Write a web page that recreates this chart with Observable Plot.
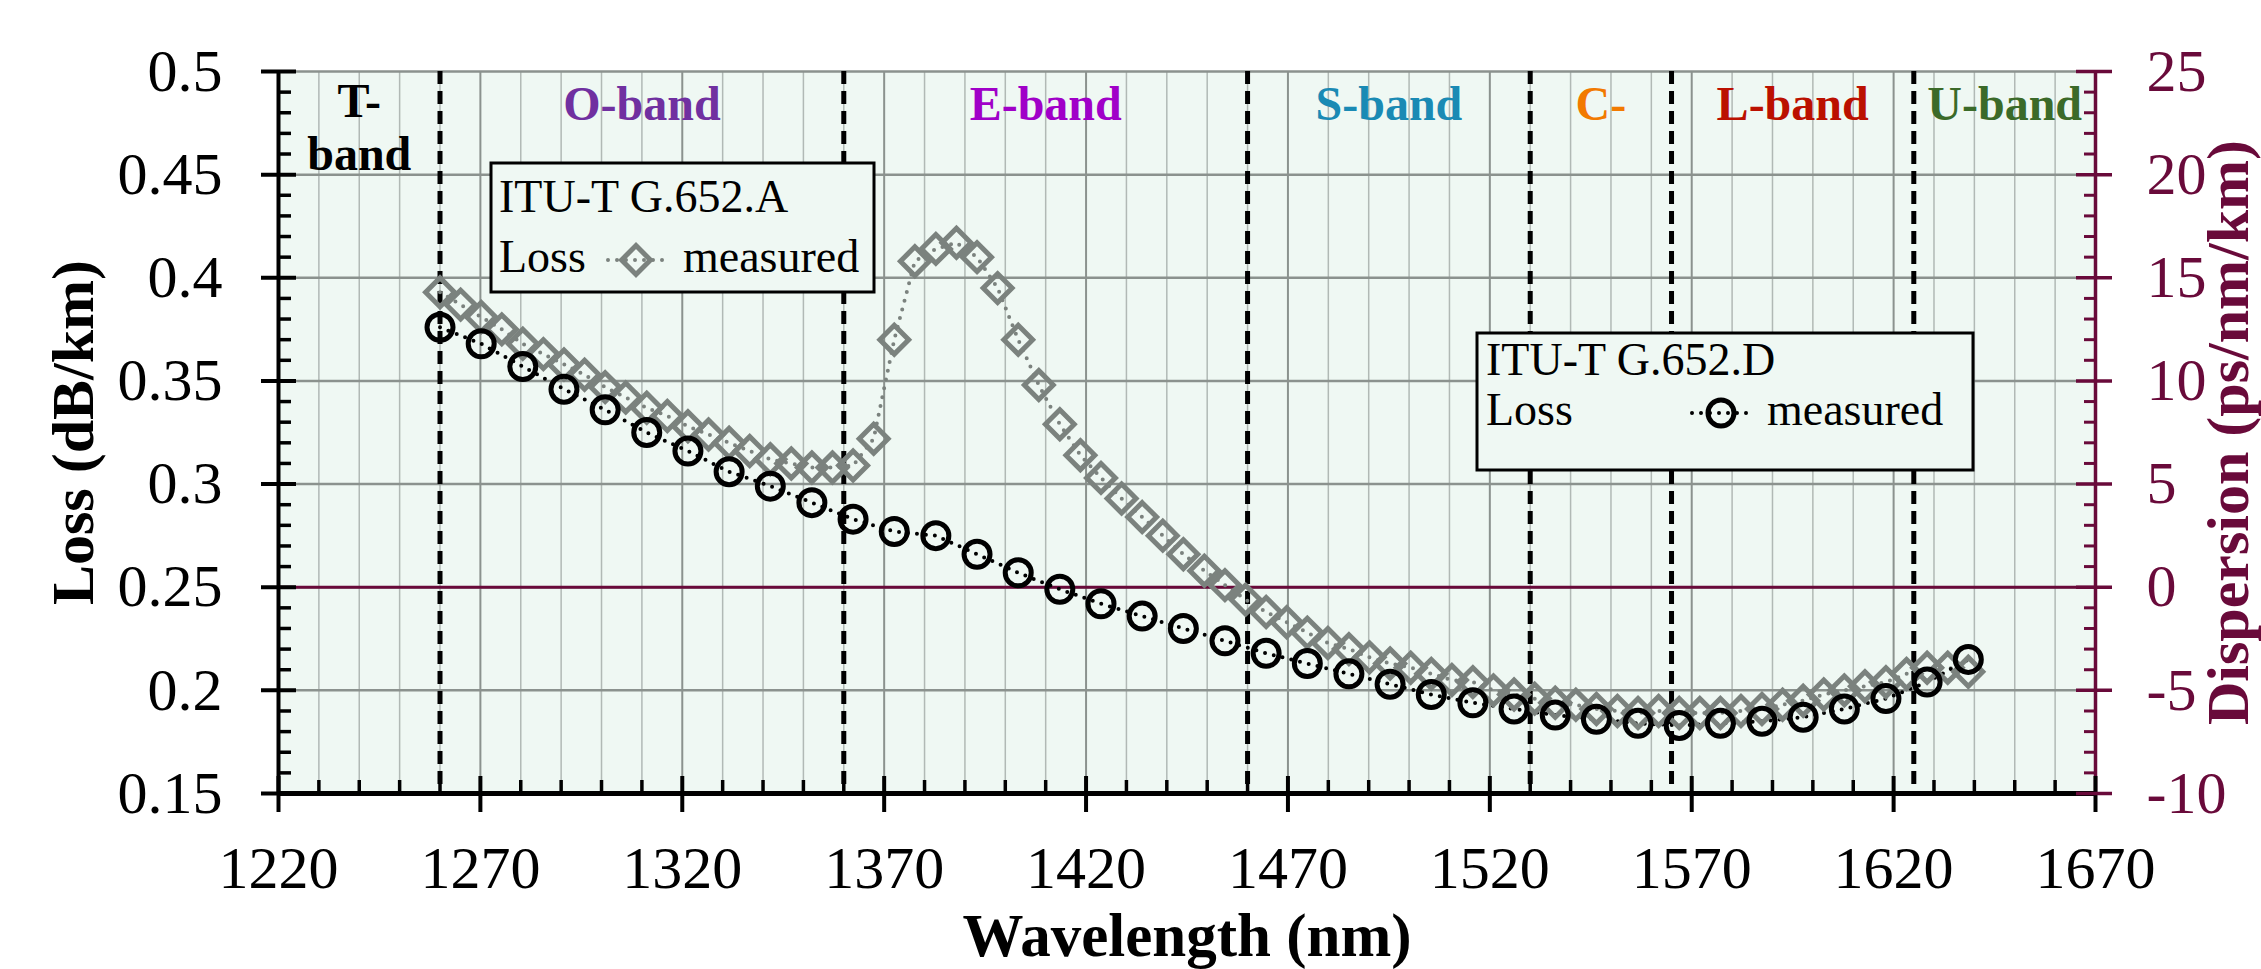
<!DOCTYPE html>
<html><head><meta charset="utf-8">
<script src="https://cdn.jsdelivr.net/npm/d3@7"></script>
<script src="https://cdn.jsdelivr.net/npm/@observablehq/plot@0.6"></script>
<style>
html,body{margin:0;padding:0;background:#fff;}
#chart svg{display:block;}
</style></head><body><div id="chart"></div>
<script>
// ---------- data ----------
const xTicks = [1220,1270,1320,1370,1420,1470,1520,1570,1620,1670];
const lossTicks = [0.15,0.2,0.25,0.3,0.35,0.4,0.45,0.5];
const lossTickLabels = ["0.15","0.2","0.25","0.3","0.35","0.4","0.45","0.5"];
const dispTicks = [-10,-5,0,5,10,15,20,25];
const bandEdges = [1260,1360,1460,1530,1565,1625];
const bandNames = ["T-\nband","O-band","E-band","S-band","C-","L-band","U-band"];
const bandCenters = [1240,1310,1410,1495,1547.5,1595,1647.5];
const bandColors = ["#000000","#7030a0","#a000c8","#1a8ab4","#f27a00","#bb1000","#3b6a29"];

// ITU-T G.652.A (diamonds)
const wlA = [1260.0,1265.1,1270.2,1275.3,1280.5,1285.6,1290.7,1295.8,1300.9,1306.0,
  1311.2,1316.3,1321.4,1326.5,1331.6,1336.7,1341.8,1347.0,1352.1,1357.2,
  1362.3,1367.4,1372.5,1377.6,1382.8,1387.9,1393.0,1398.1,1403.2,1408.3,
  1413.5,1418.6,1423.7,1428.8,1433.9,1439.0,1444.1,1449.3,1454.4,1459.5,
  1464.6,1469.7,1474.8,1479.9,1485.1,1490.2,1495.3,1500.4,1505.5,1510.6,
  1515.8,1520.9,1526.0,1531.1,1536.2,1541.3,1546.4,1551.6,1556.7,1561.8,
  1566.9,1572.0,1577.1,1582.2,1587.4,1592.5,1597.6,1602.7,1607.8,1612.9,
  1618.1,1623.2,1628.3,1633.4,1638.5];
const lossA = [0.393,0.387,0.381,0.375,0.368,0.363,0.358,0.353,0.347,0.342,
  0.337,0.333,0.328,0.324,0.320,0.316,0.312,0.310,0.308,0.308,
  0.309,0.322,0.370,0.408,0.414,0.417,0.410,0.395,0.370,0.348,
  0.329,0.314,0.303,0.293,0.284,0.275,0.266,0.258,0.251,0.244,
  0.238,0.233,0.228,0.223,0.220,0.216,0.213,0.211,0.208,0.205,
  0.204,0.200,0.198,0.196,0.194,0.193,0.191,0.190,0.189,0.190,
  0.189,0.189,0.189,0.190,0.191,0.193,0.195,0.198,0.200,0.202,
  0.204,0.208,0.211,0.211,0.209];

// ITU-T G.652.D (circles)
const wlD = [1260.0,1270.2,1280.5,1290.7,1300.9,1311.2,1321.4,1331.6,1341.8,1352.1,
  1362.3,1372.5,1382.8,1393.0,1403.2,1413.5,1423.7,1433.9,1444.1,1454.4,
  1464.6,1474.8,1485.1,1495.3,1505.5,1515.8,1526.0,1536.2,1546.4,1556.7,
  1566.9,1577.1,1587.4,1597.6,1607.8,1618.1,1628.3,1638.5];
const lossD = [0.376,0.368,0.357,0.346,0.336,0.325,0.316,0.306,0.299,0.291,
  0.283,0.277,0.275,0.266,0.257,0.249,0.242,0.236,0.230,0.224,
  0.218,0.213,0.208,0.203,0.198,0.194,0.191,0.188,0.186,0.184,
  0.183,0.184,0.185,0.187,0.191,0.196,0.204,0.215];

const legendTitles = ["ITU-T G.652.A","ITU-T G.652.D"];
const legendRows = ["Loss","Loss"];
const legendLabel = "measured";

// ---------- style ----------
const W = 2261, H = 969;
const serif = "'Liberation Serif','Times New Roman',serif";
const maroon = "#690a3a";
const bg = "#eff8f3";
const grayA = "#7b827e";

const dispToLoss = d => 0.25 + d / 100;
const seriesA = wlA.map((x, i) => ({x, y: lossA[i]}));
const seriesD = wlD.map((x, i) => ({x, y: lossD[i]}));
const bands = bandNames.map((name, i) => ({name, x: bandCenters[i], color: bandColors[i]}));

const minorX = d3.range(1230, 1670, 10).filter(v => (v - 1220) % 50 !== 0);
const minorY = d3.range(15, 51).filter(v => v % 5 !== 0).map(v => v / 100);
const minorDisp = d3.range(-10, 26).filter(v => v % 5 !== 0).map(dispToLoss);
const xDomain = [xTicks[0], xTicks[xTicks.length - 1]];
const yDomain = [lossTicks[0], lossTicks[lossTicks.length - 1]];

const chart = Plot.plot({
  width: W, height: H,
  marginLeft: 278, marginRight: 166, marginTop: 71, marginBottom: 176,
  style: {background: "#fff", fontFamily: serif, overflow: "visible"},
  x: {domain: xDomain, axis: null},
  y: {domain: yDomain, axis: null},
  marks: [
    Plot.frame({fill: bg, stroke: null}),
    Plot.gridX(minorX, {stroke: "#b1b9b5", strokeOpacity: 1, strokeWidth: 1.5}),
    Plot.gridX(xTicks, {stroke: "#8b928e", strokeOpacity: 1, strokeWidth: 2}),
    Plot.gridY(lossTicks, {stroke: "#8b928e", strokeOpacity: 1, strokeWidth: 2.5}),
    Plot.ruleY([dispToLoss(0)], {stroke: maroon, strokeWidth: 3}),
    Plot.ruleX(bandEdges, {stroke: "#000", strokeWidth: 5, strokeDasharray: "13,7"}),
    // series
    Plot.line(seriesA, {x: "x", y: "y", stroke: grayA, strokeWidth: 4, strokeDasharray: "0,9", strokeLinecap: "round"}),
    Plot.line(seriesD, {x: "x", y: "y", stroke: "#000", strokeWidth: 4, strokeDasharray: "0,9", strokeLinecap: "round"}),
    Plot.dot(seriesA, {x: "x", y: "y", symbol: "diamond2", r: 13, stroke: grayA, strokeWidth: 5, fill: "none"}),
    Plot.dot(seriesD, {x: "x", y: "y", symbol: "circle", r: 13, stroke: "#000", strokeWidth: 5, fill: "none"}),
    // band labels
    Plot.text(bands.filter((d, i) => i > 0), {x: "x", text: "name", fill: "color", frameAnchor: "top", dy: 14,
      textAnchor: "middle", lineAnchor: "top", fontSize: 48, fontWeight: "bold", fontFamily: serif}),
    Plot.text(bands.filter((d, i) => i === 0), {x: "x", text: "name", fill: "color", frameAnchor: "top", dy: 7,
      textAnchor: "middle", lineAnchor: "top", lineHeight: 1.12, fontSize: 48, fontWeight: "bold", fontFamily: serif}),
    // axis lines
    Plot.ruleX([xDomain[1]], {stroke: maroon, strokeWidth: 3.5}),
    Plot.ruleX([xDomain[0]], {stroke: "#000", strokeWidth: 4}),
    Plot.ruleY([yDomain[0]], {stroke: "#000", strokeWidth: 5}),
    // left axis
    Plot.axisY(lossTicks, {anchor: "left", tickSize: 35, dx: 18, fill: "none", stroke: "#000", strokeWidth: 4, label: null}),
    Plot.axisY(minorY, {anchor: "left", tickSize: 13, dx: 13, fill: "none", stroke: "#000", strokeWidth: 3.5, label: null}),
    Plot.axisY(lossTicks, {anchor: "left", tickSize: 0, tickPadding: 56, stroke: "none", fill: "#000",
      fontSize: 60, fontFamily: serif, tickFormat: v => lossTickLabels[lossTicks.indexOf(v)], label: null}),
    // bottom axis
    Plot.axisX(xTicks, {anchor: "bottom", tickSize: 36, dy: -17, fill: "none", stroke: "#000", strokeWidth: 4, label: null}),
    Plot.axisX(minorX, {anchor: "bottom", tickSize: 13, dy: -13, fill: "none", stroke: "#000", strokeWidth: 3.5, label: null}),
    Plot.axisX(xTicks, {anchor: "bottom", tickSize: 0, tickPadding: 52, stroke: "none", fill: "#000",
      fontSize: 60, fontFamily: serif, tickFormat: v => String(v), label: null}),
    // right axis (dispersion)
    Plot.axisY(dispTicks.map(dispToLoss), {anchor: "right", tickSize: 36, dx: -20, fill: "none", stroke: maroon, strokeWidth: 3.5, label: null}),
    Plot.axisY(minorDisp, {anchor: "right", tickSize: 12, dx: -12, fill: "none", stroke: maroon, strokeWidth: 3, label: null}),
    Plot.axisY(dispTicks.map(dispToLoss), {anchor: "right", tickSize: 0, tickPadding: 51, stroke: "none", fill: maroon,
      fontSize: 60, fontFamily: serif, tickFormat: v => String(dispTicks[dispTicks.map(dispToLoss).indexOf(v)]), label: null}),
    // titles
    Plot.text(["Loss (dB/km)"], {frameAnchor: "left", dx: -205, rotate: -90, textAnchor: "middle", lineAnchor: "middle",
      fontSize: 60, fontWeight: "bold", fontFamily: serif, fill: "#000"}),
    Plot.text(["Dispersion (ps/nm/km)"], {frameAnchor: "right", dx: 133, rotate: -90, textAnchor: "middle", lineAnchor: "middle",
      fontSize: 60, fontWeight: "bold", fontFamily: serif, fill: maroon}),
    Plot.text(["Wavelength (nm)"], {frameAnchor: "bottom", dy: 143, textAnchor: "middle", lineAnchor: "middle",
      fontSize: 61, fontWeight: "bold", fontFamily: serif, fill: "#000"})
  ]
});
document.getElementById("chart").append(chart);

// ---------- legend boxes (pixel layout) ----------
const svg = d3.select(chart);
const legendLayout = [
  {box: [491, 163, 383, 129], title: [499, 212], row: [499, 272], sym: [636, 260], line: [608, 666], lab: 683,
   symbol: d3.symbolDiamond2, r: 13, color: grayA},
  {box: [1477, 333, 496, 137], title: [1486, 375], row: [1486, 425], sym: [1721, 413], line: [1692, 1750], lab: 1767,
   symbol: d3.symbolCircle, r: 13, color: "#000"}
];
legendLayout.forEach((L, i) => {
  const g = svg.append("g").attr("text-anchor", "start");
  g.append("rect").attr("x", L.box[0]).attr("y", L.box[1]).attr("width", L.box[2]).attr("height", L.box[3])
    .attr("fill", bg).attr("stroke", "#000").attr("stroke-width", 3);
  const t = (x, y, s) => g.append("text").attr("x", x).attr("y", y).attr("font-family", serif)
    .attr("font-size", 46).attr("text-anchor", "start").attr("fill", "#000").text(s);
  t(L.title[0], L.title[1], legendTitles[i]);
  t(L.row[0], L.row[1], legendRows[i]);
  t(L.lab, L.row[1], legendLabel);
  g.append("line").attr("x1", L.line[0]).attr("x2", L.line[1]).attr("y1", L.sym[1]).attr("y2", L.sym[1])
    .attr("stroke", L.color).attr("stroke-width", 4).attr("stroke-dasharray", "0,9").attr("stroke-linecap", "round");
  g.append("path").attr("transform", `translate(${L.sym[0]},${L.sym[1]})`)
    .attr("d", d3.symbol(L.symbol, Math.PI * L.r * L.r)())
    .attr("fill", "none").attr("stroke", L.color).attr("stroke-width", 5);
});
</script>
</body></html>
